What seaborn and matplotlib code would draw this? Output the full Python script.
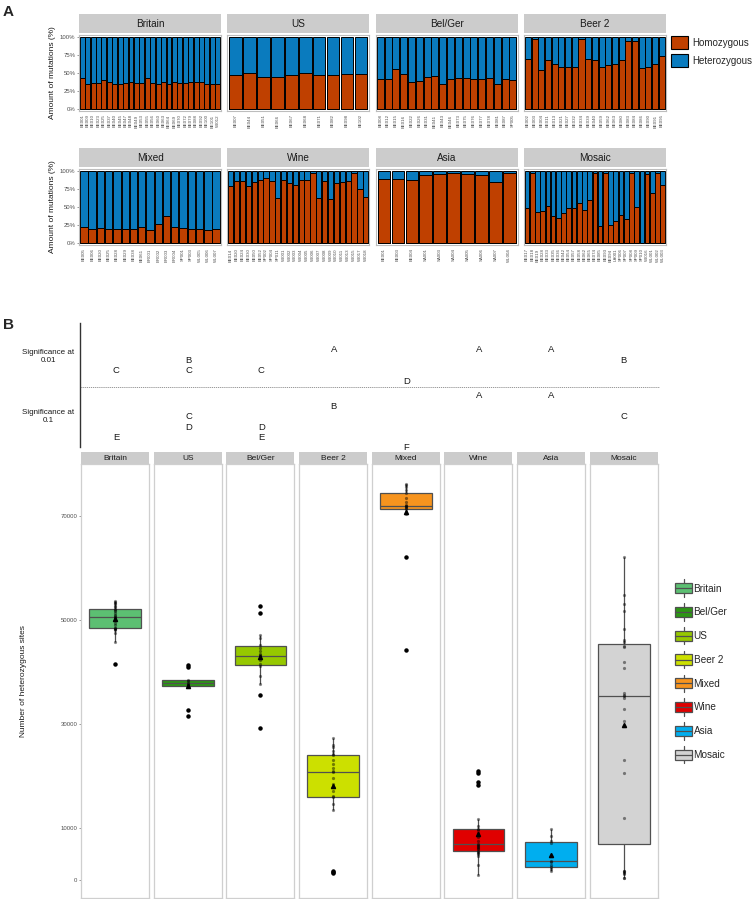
import numpy as np
import pandas as pd
import matplotlib
matplotlib.use("Agg")
import matplotlib.pyplot as plt
import seaborn as sns
from matplotlib.patches import Patch, Rectangle
from matplotlib.lines import Line2D
from matplotlib.legend_handler import HandlerBase

sns.set_theme(style="white")
plt.rcParams['font.family'] = ['Liberation Sans', 'DejaVu Sans']

# ---------------- Panel A data ----------------
groups_A = ["Britain", "US", "Bel/Ger", "Beer 2", "Mixed", "Wine", "Asia", "Mosaic"]

britain_samples = ["BE001", "BE009", "BE010", "BE023", "BE025", "BE037", "BE040", "BE045", "BE047", "BE048",
                   "BE049", "BE053", "BE055", "BE056", "BE060", "BE063", "BE064", "BE069", "BE070", "BE072",
                   "BE079", "BE088", "BE092", "BE100", "BE101", "WI012"]
britain_homo = [43, 34, 36, 36, 40, 37, 34, 35, 36, 37, 36, 36, 43, 36, 35, 38, 34, 37, 36, 36, 38, 38, 37, 35, 35, 34]

us_samples = ["BE007", "BE044", "BE051", "BE066", "BE067", "BE068", "BE071", "BE082", "BE098", "BE102"]
us_homo = [47.5, 50, 45, 44.5, 47, 50, 47.5, 47.5, 48, 48]

belger_samples = ["BE008", "BE012", "BE015", "BE016", "BE022", "BE026", "BE031", "BE041", "BE043", "BE046",
                  "BE073", "BE075", "BE076", "BE077", "BE078", "BE081", "BE087", "SP005"]
belger_homo = [41, 42, 56, 49, 38, 39, 45, 46, 35, 42, 43, 43, 41, 42, 43, 34, 42, 40]

beer2_samples = ["BE002", "BE003", "BE004", "BE011", "BE013", "BE021", "BE027", "BE032", "BE034", "BE039",
                 "BE040", "BE059", "BE062", "BE063", "BE080", "BE083", "BE084", "BE086", "BE090", "BE091", "BE095"]
beer2_homo = [70, 97, 54, 68, 63, 58, 58, 58, 97, 69, 68, 58, 61, 63, 68, 95, 95, 57, 58, 62, 74]

mixed_samples = ["BE005", "BE006", "BE020", "BE025", "BE028", "BE029", "BE038", "BE061", "BR001", "BR002",
                 "BR003", "BR004", "SP001", "SP003", "WL005", "WL006", "WL007"]
mixed_homo = [22, 20, 21, 19, 20, 20, 20, 22, 18, 26, 38, 22, 21, 20, 19, 18, 19]

wine_samples = ["BE014", "BE020", "BE024", "BE030", "BE050", "BE052", "SP002", "SP004", "SP011", "WI001",
                "WI002", "WI003", "WI004", "WI005", "WI006", "WI007", "WI008", "WI009", "WI010", "WI011",
                "WI013", "WI015", "WI017", "WI018"]
wine_homo = [79, 86, 86, 79, 85, 88, 91, 86, 63, 87, 83, 80, 87, 88, 97, 63, 86, 61, 83, 85, 86, 97, 75, 64]

asia_samples = ["BE001", "BE003", "BE004", "SA001", "SA003", "SA004", "SA005", "SA006", "SA007", "WL004"]
asia_homo = [89, 89, 88, 94, 96, 97, 96, 94, 85, 97]

mosaic_samples = ["BE017", "BE018", "BE019", "BE028", "BE033", "BE035", "BE036", "BE042", "BE054", "BE057",
                  "BE058", "BE062", "BE065", "BE074", "BE085", "BE093", "BE094", "LA001", "SP006", "SP007",
                  "SP008", "SP009", "SP010", "WI016", "WL001", "WL002", "WL003"]
mosaic_homo = [49, 97, 43, 44, 52, 38, 34, 41, 49, 49, 55, 46, 60, 97, 23, 97, 25, 31, 39, 33, 97, 50, 0, 96, 70, 97, 80]

samples_A = [britain_samples, us_samples, belger_samples, beer2_samples,
             mixed_samples, wine_samples, asia_samples, mosaic_samples]
homo_A = [britain_homo, us_homo, belger_homo, beer2_homo, mixed_homo, wine_homo, asia_homo, mosaic_homo]

legend_A_labels = ["Homozygous", "Heterozygous"]
color_homo = "#BF4000"
color_het = "#0A7BBE"

# ---------------- Panel B data (thousands of heterozygous sites) ----------------
groups_B = ["Britain", "US", "Bel/Ger", "Beer 2", "Mixed", "Wine", "Asia", "Mosaic"]
colors_B = ["#5CBF72", "#2C9614", "#96C800", "#CCE000", "#F7941E", "#E00000", "#00AEEF", "#D3D3D3"]

britain_het = [41.5, 45.8, 47.5, 48.0, 48.2, 48.3, 48.4, 48.5, 49.0, 49.5, 49.9, 50.2, 50.4, 50.6, 50.8,
               51.0, 51.4, 51.7, 52.0, 52.1, 52.4, 52.7, 53.0, 53.2, 53.4, 53.6]
us_het = [31.5, 32.6, 37.2, 37.4, 37.7, 37.9, 38.3, 38.45, 41.0, 41.3]
belger_het = [29.2, 35.6, 37.7, 39.2, 41.2, 41.6, 42.3, 42.8, 43.0, 43.2, 43.5, 44.0, 44.6, 45.1, 46.5,
              47.1, 51.4, 52.6]
beer2_het = [1.3, 1.5, 1.7, 13.5, 14.5, 15.9, 16.2, 17.0, 18.5, 19.6, 20.7, 21.0, 21.5, 22.2, 23.0,
             24.0, 24.3, 24.8, 25.5, 26.0, 27.2]
mixed_het = [44.2, 62.2, 70.4, 70.8, 71.3, 71.5, 71.7, 71.9, 72.0, 72.2, 72.6, 73.5, 74.5, 75.0, 75.5,
             75.9, 76.2]
wine_het = [0.96, 2.8, 4.5, 5.0, 5.2, 5.3, 5.5, 5.9, 6.2, 6.4, 6.6, 6.7, 6.9, 7.5, 8.2, 9.0, 9.5, 9.7,
            10.3, 11.7, 18.3, 18.9, 20.6, 21.0]
asia_het = [1.6, 2.1, 2.4, 2.8, 3.4, 3.7, 7.0, 7.4, 8.4, 9.8]
mosaic_het = [0.3, 0.4, 1.2, 1.4, 1.5, 1.6, 1.7, 11.9, 20.5, 23.0, 30.6, 32.8, 35.0, 35.3, 35.6, 35.9,
              40.7, 42.0, 44.8, 45.0, 45.8, 46.2, 48.3, 51.7, 53.1, 54.8, 62.2]
het_B = [britain_het, us_het, belger_het, beer2_het, mixed_het, wine_het, asia_het, mosaic_het]

yticks_B = [0, 10000, 30000, 50000, 70000]

legend_B_labels = ["Britain", "Bel/Ger", "US", "Beer 2", "Mixed", "Wine", "Asia", "Mosaic"]
legend_B_colors = ["#5CBF72", "#2C9614", "#96C800", "#CCE000", "#F7941E", "#E00000", "#00AEEF", "#D3D3D3"]

# significance letters
sig_level_labels = ["Significance at\n0.01", "Significance at\n0.1"]
sig_groups = ["0.01", "0.01", "0.01", "0.01", "0.01", "0.01", "0.01", "0.01", "0.01",
              "0.1", "0.1", "0.1", "0.1", "0.1", "0.1", "0.1", "0.1", "0.1", "0.1"]
sig_cats = ["Britain", "US", "US", "Bel/Ger", "Beer 2", "Mixed", "Wine", "Asia", "Mosaic",
            "Britain", "US", "US", "Bel/Ger", "Bel/Ger", "Beer 2", "Mixed", "Wine", "Asia", "Mosaic"]
sig_letters = ["C", "B", "C", "C", "A", "D", "A", "A", "B",
               "E", "C", "D", "D", "E", "B", "F", "A", "A", "C"]

# ---------------- Figure ----------------
W, H = 756, 899
fig = plt.figure(figsize=(W / 100, H / 100), dpi=100)


def ax_px(left, top, width, height, **kw):
    return fig.add_axes([left / W, 1 - (top + height) / H, width / W, height / H], **kw)


def strip(left, top, width, height, text, fs):
    s = ax_px(left, top, width, height)
    s.set_facecolor("#CCCCCC")
    s.set_xticks([]); s.set_yticks([])
    for sp in s.spines.values():
        sp.set_visible(False)
    s.text(0.5, 0.45, text, ha="center", va="center", fontsize=fs, color="#1A1A1A", transform=s.transAxes)
    return s


border_col = "#BDBDBD"
tick_col = "#4D4D4D"

# ---- Panel A ----
for i, name in enumerate(groups_A):
    row, col = divmod(i, 4)
    left = 79 + col * 148.3
    ptop = 35 if row == 0 else 169
    stop = 14 if row == 0 else 148
    strip(left, stop, 142, 19, name, 7.2)
    ax = ax_px(left, ptop, 142, 76)
    df = pd.DataFrame({"sample": samples_A[i], "homo": homo_A[i]})
    df["total"] = 100
    sns.barplot(data=df, x="sample", y="total", color=color_het, saturation=1, edgecolor="black",
                linewidth=0.7, width=0.9, ax=ax, errorbar=None)
    sns.barplot(data=df, x="sample", y="homo", color=color_homo, saturation=1, edgecolor="black",
                linewidth=0.7, width=0.9, ax=ax, errorbar=None)
    n = len(df)
    ax.set_xlim(-0.6, n - 0.4)
    ax.set_ylim(-3, 103)
    ax.set_xlabel("")
    ax.set_ylabel("")
    ax.tick_params(axis="x", labelrotation=90, labelsize=3.2, colors=tick_col, length=1.5, width=0.4, pad=1)
    for sp in ax.spines.values():
        sp.set_color(border_col); sp.set_linewidth(0.8)
    if col == 0:
        ax.set_yticks([0, 25, 50, 75, 100])
        ax.set_yticklabels(["0%", "25%", "50%", "75%", "100%"])
        ax.tick_params(axis="y", labelsize=4.3, colors=tick_col, length=1.5, width=0.4, pad=1, left=True)
        ax.set_ylabel("Amount of mutations (%)", fontsize=6, color="#1A1A1A", labelpad=3)
    else:
        ax.set_yticks([])
    ax.set_facecolor("white")

handles_A = [Patch(facecolor=color_homo, edgecolor="black", linewidth=0.8),
             Patch(facecolor=color_het, edgecolor="black", linewidth=0.8)]
fig.legend(handles_A, legend_A_labels, loc="upper left", bbox_to_anchor=(671 / W, 1 - 36 / H),
           frameon=False, fontsize=7, handlelength=1.7, handleheight=1.7, labelspacing=0.5,
           handletextpad=0.5, borderpad=0, borderaxespad=0)

fig.text(3 / W, 1 - 12 / H, "A", fontsize=11, fontweight="bold", va="center", ha="left")
fig.text(3 / W, 1 - 325 / H, "B", fontsize=11, fontweight="bold", va="center", ha="left")

# ---- Panel B significance ----
axs = ax_px(80, 320, 580, 128)
cat_index = {c: k for k, c in enumerate(groups_B)}
letter_order = "ABCDEF"
base = {"0.01": 350.0, "0.1": 396.0}
step = 10.4
for g, c, l in zip(sig_groups, sig_cats, sig_letters):
    y = base[g] + letter_order.index(l) * step
    axs.text(cat_index[c], y, l, ha="center", va="center", fontsize=6.8, color="#1A1A1A", clip_on=False)
axs.set_xlim(-0.5, 7.5)
axs.set_ylim(448, 320)
axs.axhline(387, color="#888888", linewidth=0.6, linestyle=(0, (1.5, 1)))
for k in ["top", "right", "bottom"]:
    axs.spines[k].set_visible(False)
axs.spines["left"].set_color("#333333")
axs.spines["left"].set_linewidth(1.0)
axs.spines["left"].set_bounds(447, 323)
axs.set_xticks([])
axs.set_yticks([355, 415])
axs.set_yticklabels(sig_level_labels, multialignment="center")
axs.tick_params(axis="y", length=0, labelsize=5.8, colors="#1A1A1A", pad=4)
axs.set_facecolor("none")

# ---- Panel B boxplots ----
for i, name in enumerate(groups_B):
    left = 81 + i * 72.7
    strip(left, 452, 68, 11.5, name, 6)
    ax = ax_px(left, 464, 68, 434)
    vals = np.array(het_B[i]) * 1000
    dfb = pd.DataFrame({"g": name, "v": vals})
    sns.boxplot(data=dfb, y="v", ax=ax, color=colors_B[i], saturation=1, width=0.76,
                linecolor="#505050", linewidth=0.9, showmeans=True,
                capprops={"visible": False},
                meanprops=dict(marker="^", markerfacecolor="black", markeredgecolor="black", markersize=3),
                flierprops=dict(marker="o", markerfacecolor="black", markeredgecolor="black", markersize=2.2))
    sns.stripplot(data=dfb, y="v", ax=ax, jitter=False, color="black", alpha=0.45, size=2.3)
    ax.set_xlim(-0.5, 0.5)
    ax.set_ylim(-3500, 80000)
    ax.set_xlabel(""); ax.set_ylabel("")
    ax.set_xticks([])
    for sp in ax.spines.values():
        sp.set_color("#CFCFCF"); sp.set_linewidth(0.9)
    if i == 0:
        ax.set_yticks(yticks_B)
        ax.set_yticklabels([str(t) for t in yticks_B])
        ax.tick_params(axis="y", labelsize=4.3, colors=tick_col, length=1.5, width=0.4, pad=1, left=True)
        ax.set_ylabel("Number of heterozygous sites", fontsize=6, color="#1A1A1A", labelpad=24)
    else:
        ax.set_yticks([])


class BoxHandler(HandlerBase):
    def create_artists(self, legend, orig_handle, xdescent, ydescent, width, height, fontsize, trans):
        x0, y0 = -xdescent, -ydescent
        fc = orig_handle.get_facecolor()
        lc = "#505050"
        wt = Line2D([x0 + width / 2] * 2, [y0 + height, y0 + height * 1.35], color=lc, lw=0.9, transform=trans)
        wb = Line2D([x0 + width / 2] * 2, [y0 - height * 0.35, y0], color=lc, lw=0.9, transform=trans)
        r = Rectangle((x0, y0), width, height, facecolor=fc, edgecolor=lc, lw=0.9, transform=trans)
        med = Line2D([x0, x0 + width], [y0 + height / 2] * 2, color=lc, lw=0.9, transform=trans)
        return [wt, wb, r, med]


handles_B = [Patch(facecolor=c) for c in legend_B_colors]
fig.legend(handles_B, legend_B_labels, loc="upper left", bbox_to_anchor=(675 / W, 1 - 583 / H),
           frameon=False, fontsize=7.2, handlelength=1.7, handleheight=1.2, labelspacing=1.33,
           handletextpad=0.15, borderpad=0, borderaxespad=0,
           handler_map={Patch: BoxHandler()})

fig.savefig("out.png", dpi=100)
